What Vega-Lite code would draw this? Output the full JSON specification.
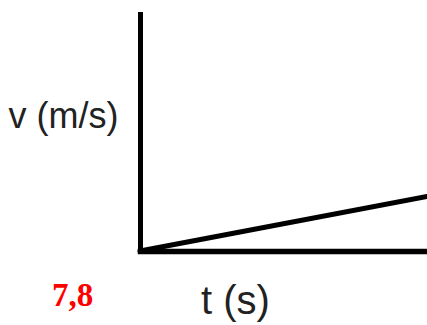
{
  "$schema": "https://vega.github.io/schema/vega-lite/v6.json",
  "autosize": "none",
  "width": 287,
  "height": 237,
  "padding": {"left": 140, "top": 14, "right": 0, "bottom": 74},
  "background": "white",
  "config": {"view": {"stroke": null}},
  "title": {
    "text": "7,8",
    "orient": "bottom",
    "anchor": "start",
    "frame": "group",
    "font": "Liberation Serif",
    "fontSize": 33,
    "fontWeight": "bold",
    "color": "#ff0000",
    "baseline": "alphabetic",
    "dx": -88,
    "offset": -15
  },
  "data": {"values": [
    {"t": 0, "v": 0},
    {"t": 10, "v": 2.3}
  ]},
  "mark": {"type": "line", "color": "black", "strokeWidth": 5, "strokeCap": "round"},
  "encoding": {
    "x": {
      "field": "t", "type": "quantitative",
      "scale": {"domain": [0, 10], "nice": false},
      "axis": {
        "title": "t (s)", "labels": false, "ticks": false, "grid": false,
        "domainColor": "black", "domainWidth": 5.5, "domainCap": "square",
        "titleFont": "Liberation Sans", "titleFontSize": 40, "titleFontWeight": "normal",
        "titleColor": "#222", "titleAlign": "center", "titleBaseline": "alphabetic",
        "titleX": 95, "titleY": 62
      }
    },
    "y": {
      "field": "v", "type": "quantitative",
      "scale": {"domain": [0, 10], "nice": false},
      "axis": {
        "title": "v (m/s)", "labels": false, "ticks": false, "grid": false,
        "domainColor": "black", "domainWidth": 5, "domainCap": "square",
        "titleFont": "Liberation Sans", "titleFontSize": 36, "titleFontWeight": "normal",
        "titleColor": "#222", "titleAngle": 0, "titleAlign": "left", "titleBaseline": "alphabetic",
        "titleX": -132, "titleY": 113
      }
    }
  }
}
